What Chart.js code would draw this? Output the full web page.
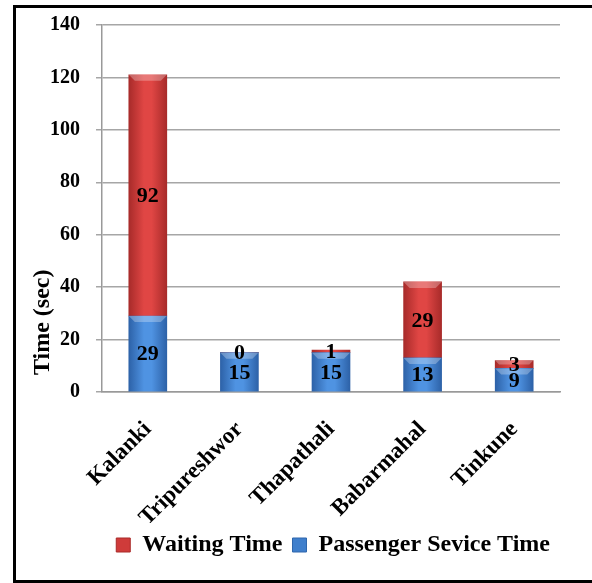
<!DOCTYPE html>
<html>
<head>
<meta charset="utf-8">
<script src="https://cdn.jsdelivr.net/npm/chart.js@4.4.1/dist/chart.umd.min.js"></script>
<style>
  html, body { margin: 0; padding: 0; background: #fff; overflow: hidden; }
  #marco {
    position: absolute; left: 13px; top: 5px;
    width: 600px; height: 572px;
    border: 3px solid #000;
  }
  #cont { position: absolute; left: 0; top: 0; width: 576px; height: 572px; }
</style>
</head>
<body>
<div id="marco"><div id="cont"><canvas id="tiempos"></canvas></div></div>
<script>
const paradas = ["Kalanki", "Tripureshwor", "Thapathali", "Babarmahal", "Tinkune"];
const tiempo_servicio = [29, 15, 15, 13, 9];
const tiempo_espera = [92, 0, 1, 29, 3];
const ticks_y = [0, 20, 40, 60, 80, 100, 120, 140];
const titulo_y = "Time (sec)";

const fuente = "'Liberation Serif', 'Times New Roman', serif";

// degradado horizontal para que las barras se vean "en relieve"
function degradado(chart, i, oscuro, claro) {
  const area = chart.chartArea;
  if (!area) return claro;
  const x = chart.scales.x.getPixelForValue(i);
  const w = 19;
  const g = chart.ctx.createLinearGradient(x - w, 0, x + w, 0);
  g.addColorStop(0, oscuro);
  g.addColorStop(0.4, claro);
  g.addColorStop(0.6, claro);
  g.addColorStop(1, oscuro);
  return g;
}

const etiquetas_segmentos = {
  id: "etiquetasSegmentos",
  afterDatasetsDraw: (chart) => {
    const ctx = chart.ctx;
    ctx.save();
    // bisel claro arriba de cada segmento
    chart.data.datasets.forEach((ds, di) => {
      const meta = chart.getDatasetMeta(di);
      meta.data.forEach((bar) => {
        const alto = bar.base - bar.y;
        if (alto < 3) return;
        const m = bar.width / 2;
        const b = Math.min(6, alto / 2);
        ctx.fillStyle = "rgba(255,255,255,0.28)";
        ctx.beginPath();
        ctx.moveTo(bar.x - m, bar.y);
        ctx.lineTo(bar.x + m, bar.y);
        ctx.lineTo(bar.x + m - b, bar.y + b);
        ctx.lineTo(bar.x - m + b, bar.y + b);
        ctx.closePath();
        ctx.fill();
      });
    });
    ctx.font = "bold 22px " + fuente;
    ctx.fillStyle = "#000";
    ctx.textAlign = "center";
    ctx.textBaseline = "middle";
    chart.data.datasets.forEach((ds, di) => {
      const meta = chart.getDatasetMeta(di);
      meta.data.forEach((bar, i) => {
        const yc = (bar.y + bar.base) / 2;
        ctx.fillText(String(ds.data[i]), bar.x, yc + 1);
      });
    });
    ctx.restore();
  },
  afterDraw: (chart) => {
    // título del eje y, más abajo que el centro como en el original
    const ctx = chart.ctx;
    const a = chart.chartArea;
    ctx.save();
    ctx.font = "bold 24px " + fuente;
    ctx.fillStyle = "#000";
    ctx.textAlign = "center";
    ctx.textBaseline = "middle";
    ctx.translate(27, a.top + (a.bottom - a.top) * 0.81);
    ctx.rotate(-Math.PI / 2);
    ctx.fillText(titulo_y, 0, 0);
    ctx.restore();
  },
};

const ctx = document.getElementById("tiempos").getContext("2d");
const chart_tiempos = new Chart(ctx, {
  type: "bar",
  data: {
    labels: paradas,
    datasets: [
      {
        label: "Passenger Sevice Time",
        data: tiempo_servicio,
        backgroundColor: (c) => degradado(c.chart, c.dataIndex, "#2d62a8", "#4f93e2"),
        borderWidth: 0,
        barThickness: 38,
      },
      {
        label: "Waiting Time",
        data: tiempo_espera,
        backgroundColor: (c) => degradado(c.chart, c.dataIndex, "#a82b2a", "#e04644"),
        borderWidth: 0,
        barThickness: 38,
      },
    ],
  },
  options: {
    responsive: true,
    maintainAspectRatio: false,
    animation: false,
    layout: { padding: { top: 17, right: 32, left: 0, bottom: 13 } },
    plugins: {
      legend: {
        position: "bottom",
        align: "end",
        reverse: true,
        labels: {
          color: "#000",
          font: { family: fuente, size: 24, weight: "bold" },
          boxWidth: 14,
          boxHeight: 14,
          padding: 10,
          generateLabels: (chart) =>
            chart.data.datasets.map((ds, i) => ({
              text: ds.label,
              fillStyle: i === 0 ? "#3f7fcc" : "#cf3b3a",
              strokeStyle: i === 0 ? "#2e67ad" : "#a92a29",
              lineWidth: 1,
              datasetIndex: i,
            })),
        },
      },
      tooltip: { enabled: false },
    },
    scales: {
      x: {
        stacked: true,
        grid: { display: false },
        border: { color: "#999", width: 1.5 },
        ticks: {
          color: "#000",
          font: { family: fuente, size: 23, weight: "bold" },
          maxRotation: 45,
          minRotation: 45,
          padding: 16,
        },
        afterFit: (scale) => { scale.height = 131; },
      },
      y: {
        stacked: true,
        min: 0,
        max: 140,
        afterBuildTicks: (scale) => {
          scale.ticks = ticks_y.map((v) => ({ value: v }));
        },
        grid: { color: "#a6a6a6", lineWidth: 1.5, tickLength: 6 },
        border: { color: "#999", width: 1.5 },
        ticks: {
          color: "#000",
          font: { family: fuente, size: 20, weight: "bold" },
          padding: 16,
        },
        afterFit: (scale) => {
          scale.width = 86;
          scale.paddingTop = 0;
          scale.paddingBottom = 0;
        },
      },
    },
  },
  plugins: [etiquetas_segmentos],
});
</script>
</body>
</html>
